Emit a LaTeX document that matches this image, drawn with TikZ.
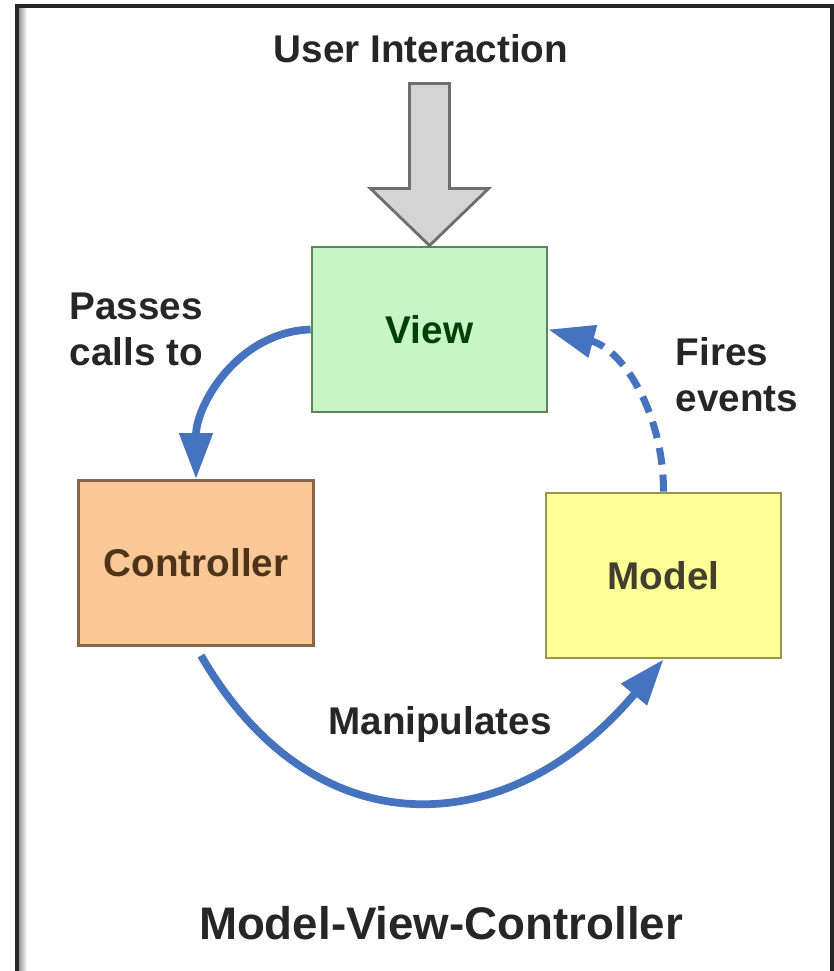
\documentclass[tikz,border=0pt]{standalone}
\usepackage{fontspec}
\setmainfont{Liberation Sans}
\usepackage{tikz}
\usetikzlibrary{positioning, arrows.meta}

\definecolor{viewfill}{RGB}{200,245,200}
\definecolor{viewedge}{RGB}{95,130,95}
\definecolor{ctrlfill}{RGB}{250,200,150}
\definecolor{ctrledge}{RGB}{135,100,75}
\definecolor{modelfill}{RGB}{255,255,150}
\definecolor{modeledge}{RGB}{150,150,80}
\definecolor{flowblue}{RGB}{70,115,190}
\definecolor{uifill}{RGB}{212,212,212}
\definecolor{uiedge}{RGB}{110,110,110}

\tikzset{
	mvc box/.style={rectangle, draw, line width=0.8pt, minimum width=2.35cm,
		minimum height=1.65cm, font=\bfseries\fontsize{11}{13}\selectfont},
	mvc label/.style={font=\bfseries\fontsize{11}{13}\selectfont, text=black!85, inner sep=0pt},
	flow/.style={->, line width=2.2pt, color=flowblue},
	ui arrow/.style={fill=uifill, draw=uiedge, line width=0.8pt, line join=miter}
}

\begin{document}
\begin{tikzpicture}[>={Triangle[length=4.6mm,width=3.2mm]}]

		\useasboundingbox (0,0) rectangle (8.33,9.71);

		% Frame
		\shade [left color=black!45, right color=white] (0.18,0) rectangle (0.27,9.64);
		\draw [line width=1.2pt, color=black!85] (0.17,0) |- (8.32,9.65) -- (8.32,0);

		% Boxes
		\node [mvc box, fill=viewfill, draw=viewedge, text=green!25!black] (view) at (4.295,6.415) {View};
		\node [mvc box, fill=ctrlfill, draw=ctrledge, text=brown!40!black] (ctrl) at (1.96,4.08) {Controller};
		\node [mvc box, fill=modelfill, draw=modeledge, text=olive!30!black] (model) at (6.635,3.955) {Model};

		% User input
		\node [mvc label] (ui) at (4.21,9.22) {User Interaction};
		\draw [ui arrow] (view.north) -- ++(-0.59,0.57) -- ++(0.39,0) -- ++(0,1.05)
			-- ++(0.40,0) -- ++(0,-1.05) -- ++(0.39,0) -- cycle;

		% Labels
		\node [mvc label, align=left, left=1.07cm of view] (passes) {Passes\\calls to};
		\node [mvc label, align=left, anchor=west] (fires) at (6.75,5.96) {Fires\\events};
		\node [mvc label] (manip) at (4.40,2.46) {Manipulates};
		\node [mvc label, font=\bfseries\fontsize{13}{15}\selectfont] (title) at (4.41,0.48) {Model-View-Controller};

		% Flows
		\draw [flow] (view.west) to [out=182, in=90] (ctrl.north);
		\draw [flow, line width=2pt, dash pattern=on 0.17cm off 0.1cm]
			(model.north) to [out=90, in=-15] (view.east);
		\draw [flow, shorten <=0.1cm] (ctrl.south) to [out=-60, in=-130, looseness=1.3] (model.south);

	\end{tikzpicture}
\end{document}
